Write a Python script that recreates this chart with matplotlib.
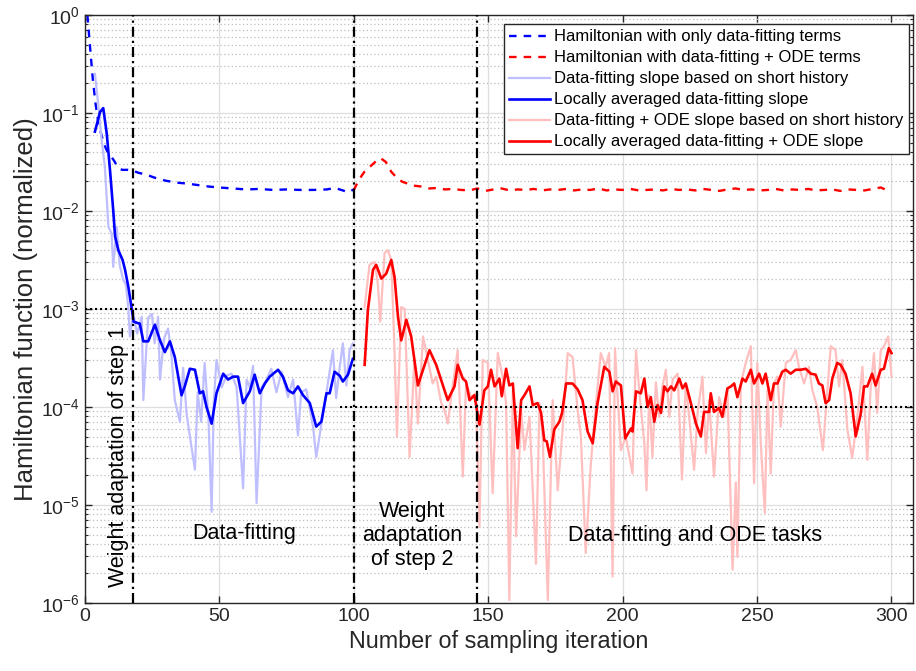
import numpy as np
import matplotlib.pyplot as plt
from matplotlib.ticker import LogLocator, NullLocator

plt.rcParams['font.family'] = ['Liberation Sans', 'DejaVu Sans']
plt.rcParams['mathtext.default'] = 'regular'

# values are stored as log10 exponents
blue_h = [(1, 0.0), (2, -0.33), (3, -0.65), (4, -0.9), (5, -1.08), (6, -1.2), (7, -1.3),
          (8, -1.37), (9, -1.42), (10, -1.45), (11, -1.49), (12, -1.54), (13, -1.57),
          (14, -1.58), (16, -1.58), (18, -1.59), (20, -1.61), (23, -1.63), (26, -1.66),
          (30, -1.69), (34, -1.71), (38, -1.72), (42, -1.735), (46, -1.75), (50, -1.76),
          (55, -1.77), (60, -1.78), (65, -1.775), (70, -1.785), (75, -1.78), (80, -1.785),
          (85, -1.785), (90, -1.78), (93, -1.765), (96, -1.79), (98, -1.81), (100, -1.78)]

red_h = [(100, -1.79), (102, -1.68), (104, -1.60), (106, -1.55), (108, -1.50), (110, -1.46),
         (112, -1.50), (114, -1.60), (116, -1.66), (118, -1.70), (120, -1.72), (122, -1.74),
         (125, -1.75), (128, -1.77), (131, -1.765), (134, -1.78), (137, -1.775), (140, -1.785),
         (143, -1.79), (146, -1.77), (149, -1.795), (152, -1.78), (155, -1.77), (158, -1.79),
         (161, -1.78), (164, -1.785), (167, -1.775), (170, -1.79), (173, -1.78), (176, -1.785),
         (179, -1.775), (182, -1.79), (185, -1.78), (188, -1.785), (191, -1.77), (194, -1.79),
         (197, -1.78), (200, -1.785), (203, -1.775), (206, -1.79), (209, -1.785), (212, -1.78),
         (215, -1.79), (218, -1.775), (221, -1.785), (224, -1.78), (227, -1.79), (230, -1.775),
         (233, -1.785), (236, -1.795), (239, -1.78), (242, -1.77), (245, -1.785), (248, -1.78),
         (251, -1.79), (254, -1.785), (257, -1.775), (260, -1.79), (263, -1.78), (266, -1.785),
         (269, -1.775), (272, -1.79), (275, -1.785), (278, -1.78), (281, -1.795), (284, -1.78),
         (287, -1.785), (290, -1.79), (293, -1.775), (296, -1.76), (298, -1.785), (300, -1.80)]

blue_raw = [(3.8, -0.60), (5.0, -0.90), (6.2, -1.25), (7.5, -1.55), (8.8, -2.16), (10.0, -2.23),
            (10.6, -2.57), (11.9, -2.16), (13.0, -2.55), (14.3, -2.70), (15.3, -2.75),
            (16.2, -2.98), (16.8, -3.28), (18.0, -3.05), (19.5, -3.25), (21.2, -3.08),
            (21.8, -3.93), (23.6, -3.09), (25.0, -3.05), (26.0, -3.35), (27.3, -3.08),
            (28.0, -3.72), (29.5, -3.30), (31.0, -3.20), (32.2, -3.45), (33.5, -3.93),
            (35.4, -4.15), (36.6, -3.60), (37.9, -4.07), (39.1, -4.30), (41.0, -4.64),
            (42.0, -3.85), (43.3, -4.15), (44.6, -3.55), (46.0, -4.10), (47.2, -5.07),
            (48.0, -3.95), (49.0, -3.52), (50.9, -3.80), (52.8, -3.68), (54.6, -3.66),
            (56.5, -3.80), (58.9, -4.83), (60.2, -3.72), (61.4, -3.80), (62.6, -3.58),
            (63.9, -4.98), (65.8, -3.80), (67.6, -3.72), (69.4, -3.61), (71.3, -3.85),
            (73.2, -3.64), (75.6, -3.90), (77.5, -3.72), (79.3, -4.29), (80.5, -3.85),
            (82.4, -3.82), (84.9, -4.20), (86.1, -4.51), (87.3, -4.30), (89.9, -3.85),
            (92.3, -3.42), (93.5, -3.91), (94.8, -3.60), (96.0, -3.35), (97.3, -3.78),
            (98.5, -3.42), (99.7, -3.35)]

blue_avg = [(3.8, -1.19), (5.7, -0.99), (6.9, -0.95), (8.2, -1.21), (9.4, -1.58), (10.6, -1.99),
            (11.3, -2.26), (12.5, -2.40), (14.1, -2.50), (15.0, -2.60), (16.2, -2.77),
            (17.4, -2.98), (18.2, -3.13), (20.5, -3.15), (21.8, -3.33), (23.6, -3.33),
            (26.1, -3.16), (28.0, -3.32), (29.8, -3.44), (31.7, -3.33), (33.5, -3.49),
            (36.0, -3.88), (37.2, -3.79), (39.1, -3.61), (41.0, -3.62), (42.8, -3.86),
            (44.0, -3.84), (45.3, -4.00), (47.2, -4.17), (49.0, -3.86), (51.5, -3.66),
            (53.3, -3.72), (55.2, -3.69), (57.0, -3.69), (58.9, -3.96), (61.4, -3.84),
            (63.2, -3.67), (65.1, -3.86), (67.0, -3.76), (68.8, -3.69), (71.9, -3.62),
            (73.7, -3.69), (75.6, -3.83), (77.5, -3.86), (79.3, -3.79), (81.2, -3.88),
            (83.7, -3.96), (86.1, -4.20), (88.0, -4.15), (89.9, -3.86), (91.1, -3.86),
            (92.9, -3.64), (94.8, -3.68), (96.0, -3.74), (97.9, -3.67), (99.7, -3.51)]

red_raw = [(104.1, -2.98), (105.9, -2.55), (107.8, -2.52), (109.0, -2.74), (109.9, -3.13),
           (111.5, -2.43), (112.7, -2.40), (114.0, -2.50), (115.2, -3.42), (116.1, -4.30),
           (117.7, -2.98), (119.0, -3.00), (120.8, -4.51), (122.6, -3.52), (123.9, -4.17),
           (125.8, -3.28), (127.6, -3.52), (129.4, -3.76), (130.7, -3.69), (132.6, -3.96),
           (133.8, -4.03), (135.0, -4.17), (136.8, -3.79), (138.7, -3.42), (140.6, -4.71),
           (141.8, -3.76), (143.7, -3.90), (145.5, -3.86), (146.8, -5.22), (148.0, -3.52),
           (149.9, -3.55), (151.7, -4.88), (153.6, -3.45), (155.4, -3.69), (156.7, -3.96),
           (157.9, -5.97), (159.2, -3.83), (160.4, -5.32), (162.3, -4.03), (163.5, -4.44),
           (165.4, -4.10), (167.8, -5.60), (169.1, -3.96), (170.3, -4.30), (172.2, -5.97),
           (174.0, -3.93), (175.9, -4.85), (177.7, -4.23), (179.6, -3.45), (181.4, -3.49),
           (183.3, -4.03), (184.5, -4.30), (186.3, -5.49), (188.2, -4.58), (190.0, -4.00),
           (191.9, -3.45), (193.7, -3.59), (195.0, -3.45), (196.3, -5.73), (197.2, -3.40),
           (197.9, -3.78), (199.4, -4.44), (201.2, -4.30), (203.7, -4.68), (205.0, -3.42),
           (206.2, -3.83), (208.1, -4.37), (208.9, -4.85), (209.9, -3.88), (211.1, -4.51),
           (212.4, -3.75), (213.6, -4.10), (214.9, -3.78), (216.1, -3.62), (217.4, -4.10),
           (218.6, -3.72), (220.5, -3.66), (222.1, -4.74), (223.5, -3.76), (225.0, -4.17),
           (226.6, -4.64), (227.9, -4.06), (229.7, -3.69), (231.0, -4.47), (232.2, -3.93),
           (234.0, -4.71), (235.9, -3.90), (237.8, -4.10), (239.0, -3.83), (240.9, -5.66),
           (242.1, -4.77), (242.7, -5.53), (244.0, -3.76), (245.8, -3.55), (247.7, -3.38),
           (248.9, -4.78), (250.1, -3.55), (251.4, -4.37), (252.9, -5.08), (253.9, -3.83),
           (255.1, -4.68), (256.3, -3.76), (257.6, -3.69), (258.8, -4.20), (260.7, -3.55),
           (262.5, -3.52), (264.4, -3.42), (265.6, -3.59), (267.5, -3.76), (269.3, -3.59),
           (270.6, -3.83), (272.4, -4.00), (274.5, -4.44), (276.1, -3.86), (277.4, -3.38),
           (279.2, -3.42), (280.5, -3.79), (281.7, -3.52), (283.6, -4.23), (285.4, -4.52),
           (287.3, -4.10), (289.2, -3.59), (291.0, -4.54), (292.2, -3.83), (293.5, -3.45),
           (294.7, -4.06), (296.0, -3.42), (297.2, -3.38), (298.8, -3.28), (300.0, -3.69)]

red_avg = [(104.1, -3.57), (105.3, -3.01), (107.2, -2.60), (108.4, -2.55), (110.3, -2.69),
           (112.1, -2.64), (114.0, -2.50), (115.2, -2.67), (116.5, -3.08), (117.7, -3.32),
           (119.6, -3.11), (121.4, -3.28), (123.9, -3.78), (126.4, -3.57), (128.2, -3.42),
           (130.7, -3.57), (135.0, -3.93), (137.5, -3.79), (138.7, -3.57), (140.6, -3.71),
           (141.8, -3.74), (143.1, -3.93), (144.9, -3.88), (146.8, -4.18), (148.6, -3.83),
           (149.9, -3.79), (151.1, -3.62), (152.4, -3.79), (154.2, -3.71), (155.1, -3.89),
           (156.7, -3.61), (157.9, -3.78), (159.2, -3.76), (161.0, -4.42), (162.3, -3.93),
           (163.5, -3.88), (165.4, -3.79), (166.6, -3.98), (168.4, -3.96), (169.7, -4.06),
           (170.9, -4.34), (171.8, -4.35), (173.0, -4.51), (174.6, -4.23), (176.5, -4.15),
           (177.5, -4.06), (179.0, -3.76), (181.4, -3.76), (183.3, -3.82), (185.1, -3.93),
           (187.0, -4.25), (188.9, -4.37), (190.7, -3.96), (193.2, -3.59), (195.1, -3.64),
           (196.3, -3.84), (197.5, -3.74), (199.4, -3.78), (201.0, -4.32), (203.1, -4.22),
           (203.7, -4.25), (205.0, -3.84), (206.8, -3.86), (208.1, -3.71), (209.3, -4.00),
           (210.5, -3.90), (211.8, -4.15), (213.0, -3.98), (214.3, -4.06), (215.5, -3.79),
           (216.7, -3.84), (218.0, -3.79), (219.2, -3.83), (221.1, -3.71), (222.3, -3.81),
           (223.5, -3.76), (225.4, -3.96), (227.3, -4.17), (229.1, -4.30), (230.3, -4.05),
           (232.2, -4.05), (232.8, -3.86), (234.0, -4.05), (235.9, -4.01), (237.1, -4.10),
           (239.0, -3.81), (240.3, -3.79), (241.5, -3.76), (242.7, -3.90), (244.6, -3.71),
           (245.8, -3.74), (247.7, -3.62), (248.9, -3.76), (250.8, -3.66), (252.0, -3.76),
           (253.2, -3.66), (255.1, -3.93), (256.3, -3.76), (257.6, -3.76), (259.4, -3.64),
           (260.7, -3.62), (262.5, -3.66), (264.4, -3.62), (266.2, -3.62), (268.1, -3.61),
           (270.0, -3.66), (271.8, -3.67), (273.0, -3.76), (274.3, -3.78), (275.5, -3.96),
           (276.8, -3.93), (278.0, -3.71), (279.8, -3.55), (281.1, -3.57), (282.9, -3.66),
           (284.8, -3.86), (286.7, -4.30), (288.5, -4.08), (289.8, -3.79), (291.0, -3.79),
           (292.8, -3.66), (294.1, -3.78), (296.0, -3.62), (297.2, -3.61), (299.0, -3.40),
           (300.0, -3.45)]

phase_bounds = [18, 100, 146]
labels = ['Hamiltonian with only data-fitting terms',
          'Hamiltonian with data-fitting + ODE terms',
          'Data-fitting slope based on short history',
          'Locally averaged data-fitting slope',
          'Data-fitting + ODE slope based on short history',
          'Locally averaged data-fitting + ODE slope']


def xy(pairs):
    x, e = zip(*pairs)
    return np.array(x), 10.0 ** np.array(e)


fig = plt.figure(figsize=(9.16, 6.71), dpi=100)
ax = fig.add_axes([84.7 / 916, 68 / 671, 828.3 / 916, 588 / 671])

dash = (0, (3.2, 3.0))
lines = []
lines.append(ax.plot(*xy(blue_h), color='#0000ff', lw=1.7, linestyle=dash)[0])
lines.append(ax.plot(*xy(red_h), color='#ff0000', lw=1.7, linestyle=dash)[0])
lines.append(ax.plot(*xy(blue_raw), color='#bfbfff', lw=1.6)[0])
lines.append(ax.plot(*xy(blue_avg), color='#0000ff', lw=1.9)[0])
lines.append(ax.plot(*xy(red_raw), color='#ffbfbf', lw=1.6)[0])
lines.append(ax.plot(*xy(red_avg), color='#ff0000', lw=1.9)[0])

for xb in phase_bounds:
    ax.axvline(xb, color='k', lw=1.6, linestyle=(0, (4.5, 1.8, 1, 1.8)), zorder=5)
ax.plot([0, 104], [1e-3, 1e-3], color='k', lw=1.5, linestyle=(0, (1, 1.4)), zorder=5)
ax.plot([95, 308], [1e-4, 1e-4], color='k', lw=1.5, linestyle=(0, (1, 1.4)), zorder=5)

ax.set_yscale('log')
ax.set_xlim(0, 308)
ax.set_ylim(1e-6, 1)
ax.set_xticks([0, 50, 100, 150, 200, 250, 300])
ax.xaxis.set_minor_locator(NullLocator())
ax.yaxis.set_major_locator(LogLocator(base=10, numticks=10))
ax.yaxis.set_minor_locator(LogLocator(base=10, subs=np.arange(2, 10), numticks=20))

ax.grid(True, which='major', color='#dedede', lw=0.9, linestyle='-')
ax.grid(True, which='minor', axis='y', color='#bdbdbd', lw=0.9, linestyle=(0, (1, 2)))
ax.set_axisbelow(True)

ax.tick_params(which='both', direction='in', top=True, right=True, colors='#262626',
               labelsize=14)
ax.tick_params(which='major', length=5, width=1)
ax.tick_params(which='minor', length=2.5, width=0.8)
for s in ax.spines.values():
    s.set_color('#262626')
    s.set_linewidth(1.0)

ax.set_xlabel('Number of sampling iteration', fontsize=16.8, color='#262626', labelpad=4)
ax.set_ylabel('Hamiltonian function (normalized)', fontsize=18.5, color='#262626',
              labelpad=2)

ax.text(12.4, 10 ** -4.51, 'Weight adaptation of step 1', rotation=90, fontsize=15.5,
        ha='center', va='center')
ax.text(59.4, 10 ** -5.29, 'Data-fitting', fontsize=15.5, ha='center', va='center')
ax.text(121.7, 10 ** -5.31, 'Weight\nadaptation\nof step 2', fontsize=15.5, ha='center',
        va='center', linespacing=1.2)
ax.text(227, 10 ** -5.31, 'Data-fitting and ODE tasks', fontsize=15.5, ha='center',
        va='center')

leg = ax.legend(lines, labels, loc='upper right', bbox_to_anchor=(0.995, 0.984),
                borderaxespad=0, fontsize=12, handlelength=2.5, labelspacing=0.36,
                handletextpad=0.25, borderpad=0.3, fancybox=False, framealpha=1)
leg.get_frame().set_edgecolor('#262626')
leg.get_frame().set_linewidth(1.0)

fig.savefig('out.png', dpi=100)
